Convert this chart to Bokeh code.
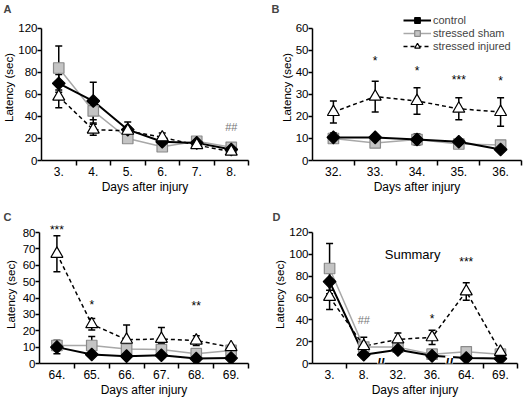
import numpy as np
from bokeh.plotting import figure
from bokeh.layouts import column, row
from bokeh.models import (Range1d, FixedTicker, ColumnDataSource, Whisker, TeeHead,
                          Legend, LegendItem, Label)
from bokeh.embed import file_html
from bokeh.resources import INLINE

FONT = "Liberation Sans"

# ---------------- data ----------------
a_days = ["3.", "4.", "5.", "6.", "7.", "8."]
a_control = [70, 54, 28, 17, 16, 10]
a_control_err = [8, 17, 7, 3, 2, 2]
a_sham = [84, 45, 20, 12.5, 17.5, 12]
a_sham_err = [20, 11, 3, 2, 2, 2]
a_injured = [58, 28, 27, 21, 14, 8]
a_injured_err = [10, 5, 3, 4, 2, 2]
a_sig_day = ["8."]
a_sig_y = [30]
a_sig_text = ["##"]

b_days = ["32.", "33.", "34.", "35.", "36."]
b_control = [10.5, 10.5, 9.5, 8.5, 5]
b_control_err = [2, 1, 2, 1, 1]
b_sham = [10, 8, 9.5, 7.5, 7]
b_sham_err = [2, 2, 2.5, 1, 1]
b_injured = [22, 29, 27, 23.5, 22]
b_injured_err = [5, 7, 6, 5, 6.5]
b_sig_day = ["33.", "34.", "35.", "36."]
b_sig_y = [45, 40.5, 36.5, 36]
b_sig_text = ["*", "*", "***", "*"]

c_days = ["64.", "65.", "66.", "67.", "68.", "69."]
c_control = [10, 5.5, 4.5, 5, 3, 3.3]
c_control_err = [4, 1, 1, 1, 1, 1]
c_sham = [11, 11, 8.8, 8.5, 6, 8]
c_sham_err = [3, 5.5, 2, 3.5, 1, 1]
c_injured = [67, 24, 14.5, 15, 14, 10]
c_injured_err = [11, 3.5, 9, 7, 3, 1]
c_sig_day = ["64.", "65.", "68."]
c_sig_y = [81.5, 36, 35]
c_sig_text = ["***", "*", "**"]

d_days = ["3.", "8.", "32.", "36.", "64.", "69."]
d_control = [75, 8, 12.5, 7, 5, 4.5]
d_control_err = [8, 1, 1, 1, 1, 1]
d_sham = [87, 15, 15, 8.5, 10.7, 8.5]
d_sham_err = [23, 2, 2, 1, 1, 1]
d_injured = [61, 16, 22, 24, 66, 10.7]
d_injured_err = [11.5, 8, 6, 6.5, 8, 1]
d_sig_day = ["8.", "36.", "64."]
d_sig_y = [39.5, 41, 93]
d_sig_text = ["##", "*", "***"]
d_break_after = ["8.", "36."]
d_note = "Summary"

series_names = ["control", "stressed sham", "stressed injured"]

# ---------------- styling ----------------
STY = {
    "control": dict(line_color="black", line_width=2, line_dash="solid",
                    marker="square", angle=np.pi / 4, size=9,
                    fill_color="black", mline="black"),
    "stressed sham": dict(line_color="#a8a8a8", line_width=1.5, line_dash="solid",
                          marker="square", angle=0, size=10.5,
                          fill_color="#c4c4c4", mline="#8a8a8a"),
    "stressed injured": dict(line_color="black", line_width=1.5, line_dash="4 3",
                             marker="triangle", angle=0, size=12,
                             fill_color="white", mline="black"),
}


def make_panel(letter, days, vals, errs, ymax, ystep, sig_day, sig_y, sig_text,
               size, borders, title_standoff, title_offset, yext=None, minor=None,
               ylabel_standoff=0, legend=False):
    n = len(days)
    xs = [i + 0.5 for i in range(n)]
    w, h = size
    left, right, top, bottom = borders
    p = figure(width=w, height=h, output_backend="svg", toolbar_location=None,
               x_range=Range1d(0, n), y_range=Range1d(0, yext if yext else ymax),
               min_border_left=left, min_border_right=right,
               min_border_top=top, min_border_bottom=bottom)
    p.title.text = letter
    p.title.text_font = FONT
    p.title.text_font_size = "11px"
    p.title.text_font_style = "bold"
    p.title.offset = title_offset
    p.title.standoff = title_standoff
    p.outline_line_color = None
    p.grid.visible = False
    p.background_fill_color = "white"
    p.border_fill_color = "white"

    # axes
    p.yaxis.ticker = FixedTicker(ticks=list(range(0, ymax + 1, ystep)))
    p.yaxis.bounds = (0, ymax)
    p.xaxis.ticker = FixedTicker(ticks=xs,
                                 minor_ticks=minor if minor is not None else list(range(1, n + 1)))
    p.xaxis.major_label_overrides = {x: d for x, d in zip(xs, days)}
    for ax in (p.xaxis[0], p.yaxis[0]):
        ax.axis_line_width = 1.5
        ax.axis_line_color = "black"
        ax.major_label_text_font = FONT
        ax.major_label_text_color = "black"
        ax.axis_label_text_font = FONT
        ax.axis_label_text_font_style = "normal"
        ax.axis_label_text_color = "black"
    p.xaxis.major_label_text_font_size = "12px"
    p.xaxis.axis_label_text_font_size = "12px"
    p.yaxis.major_label_text_font_size = "11.5px"
    p.yaxis.axis_label_text_font_size = "11.5px"
    p.xaxis.major_tick_out = 0
    p.xaxis.major_tick_in = 0
    p.xaxis.minor_tick_out = 5
    p.xaxis.minor_tick_in = 0
    p.xaxis.minor_tick_line_width = 1.5
    p.xaxis.minor_tick_line_color = "black"
    p.xaxis.major_label_standoff = 1
    p.xaxis.axis_label = "Days after injury"
    p.xaxis.axis_label_standoff = 1
    p.yaxis.major_tick_out = 4
    p.yaxis.major_tick_in = 0
    p.yaxis.major_tick_line_width = 1.5
    p.yaxis.minor_tick_out = 0
    p.yaxis.minor_tick_in = 0
    p.yaxis.major_label_standoff = 0
    p.yaxis.axis_label = "Latency (sec)"
    p.yaxis.axis_label_standoff = ylabel_standoff

    renderers = {}
    # error bars
    for name in series_names:
        v = np.array(vals[name], dtype=float)
        e = np.array(errs[name], dtype=float)
        src = ColumnDataSource(dict(x=xs, upper=v + e, lower=v - e))
        wk = Whisker(source=src, base="x", upper="upper", lower="lower",
                     dimension="height", line_color="black", line_width=1.5,
                     upper_head=TeeHead(size=7, line_color="black", line_width=1.5),
                     lower_head=TeeHead(size=7, line_color="black", line_width=1.5))
        p.add_layout(wk)
    # lines
    for name in ["stressed sham", "stressed injured", "control"]:
        s = STY[name]
        ln = p.line(xs, vals[name], line_color=s["line_color"], line_width=s["line_width"],
                    line_dash=s["line_dash"])
        renderers.setdefault(name, []).append(ln)
    # markers
    for name in ["stressed sham", "control", "stressed injured"]:
        s = STY[name]
        mk = p.scatter(xs, vals[name], marker=s["marker"], angle=s["angle"], size=s["size"],
                       fill_color=s["fill_color"], line_color=s["mline"], line_width=1.2)
        renderers[name].append(mk)

    # significance markers
    for d, y, t in zip(sig_day, sig_y, sig_text):
        p.add_layout(Label(x=days.index(d) + 0.5, y=y, text=t, text_align="center",
                           text_baseline="middle", text_font=FONT,
                           text_font_size="11px" if "#" in t else "12px",
                           text_color="#777777" if "#" in t else "black"))

    if legend:
        # one legend per row, in the frame's top right corner
        row_bottoms = [133, 120, 107]
        for nm, vy in zip(series_names, row_bottoms):
            lg = Legend(items=[LegendItem(label=nm, renderers=renderers[nm])],
                        location=(91, vy), orientation="vertical",
                        background_fill_alpha=0, border_line_color=None,
                        label_text_font=FONT, label_text_font_size="11px",
                        label_height=14, glyph_height=14, glyph_width=28,
                        spacing=0, padding=0, margin=0, label_standoff=2)
            p.add_layout(lg, "center")
    return p


# frames in a row share their top edge, so the ranges reach above the top tick
pa = make_panel("A", a_days,
                {"control": a_control, "stressed sham": a_sham, "stressed injured": a_injured},
                {"control": a_control_err, "stressed sham": a_sham_err, "stressed injured": a_injured_err},
                120, 20, a_sig_day, a_sig_y, a_sig_text, (264, 200), (39, 16, 13, 40), 0, -38,
                yext=132.6)
pb = make_panel("B", b_days,
                {"control": b_control, "stressed sham": b_sham, "stressed injured": b_injured},
                {"control": b_control_err, "stressed sham": b_sham_err, "stressed injured": b_injured_err},
                60, 10, b_sig_day, b_sig_y, b_sig_text, (265, 200), (48, 8, 13, 40), 0, -41,
                yext=66.3, legend=True)
pc = make_panel("C", c_days,
                {"control": c_control, "stressed sham": c_sham, "stressed injured": c_injured},
                {"control": c_control_err, "stressed sham": c_sham_err, "stressed injured": c_injured_err},
                80, 10, c_sig_day, c_sig_y, c_sig_text, (264, 202), (39, 16, 25, 39), 5, -36,
                yext=84.3, ylabel_standoff=3)
pd_ = make_panel("D", d_days,
                 {"control": d_control, "stressed sham": d_sham, "stressed injured": d_injured},
                 {"control": d_control_err, "stressed sham": d_sham_err, "stressed injured": d_injured_err},
                 120, 20, d_sig_day, d_sig_y, d_sig_text, (265, 202), (48, 12, 25, 39), 5, -40,
                 yext=126.4, minor=[1, 5, 6])
for dname in d_break_after:
    pd_.add_layout(Label(x=d_days.index(dname) + 1, y=0, text="//", text_align="center",
                         text_baseline="middle", text_font=FONT, text_font_size="14px",
                         text_font_style="bold", text_color="black",
                         background_fill_color="white", padding=0))
pd_.add_layout(Label(x=2.93, y=100, text=d_note, text_align="center", text_baseline="middle",
                     text_font=FONT, text_font_size="13px", text_color="black"))

layout = column(row(pa, pb, spacing=0), row(pc, pd_, spacing=0), spacing=0)
open("out.html", "w").write(file_html(layout, INLINE))
